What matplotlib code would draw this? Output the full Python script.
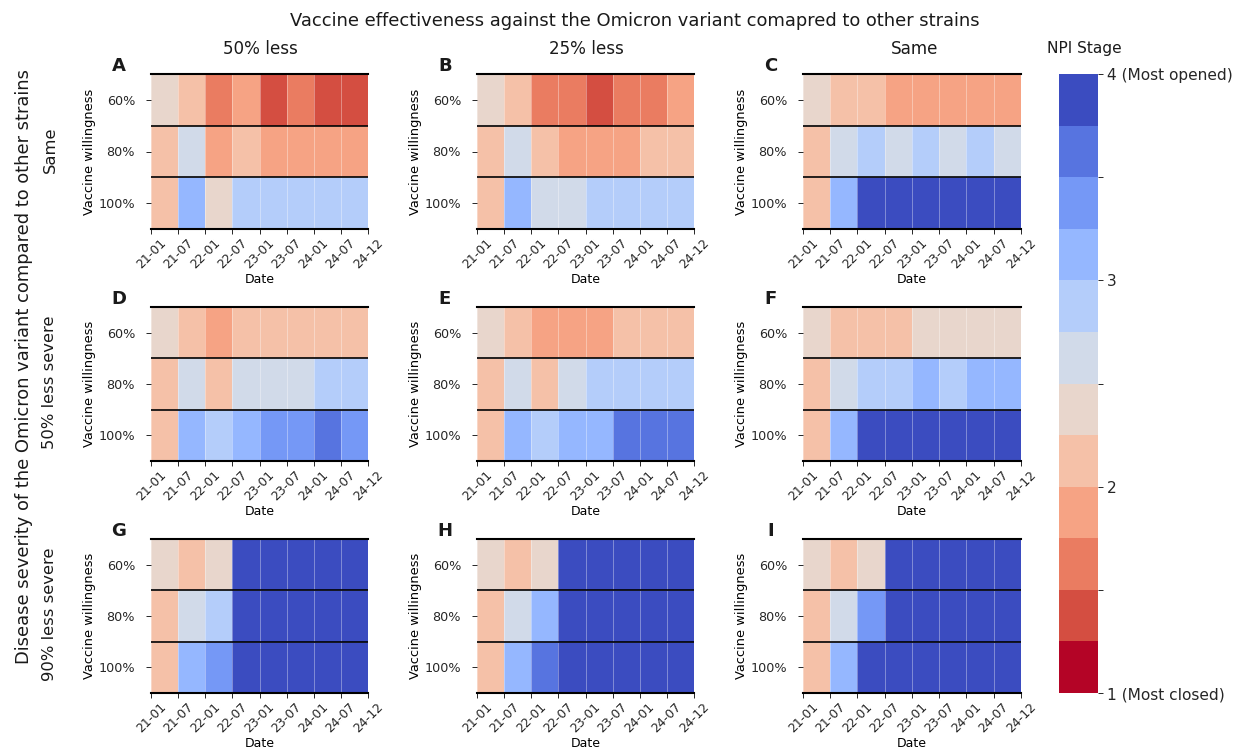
#!/usr/bin/env python3
"""Grid of NPI stage heatmaps for Omicron vaccine effectiveness and severity."""

import numpy as np

import matplotlib

matplotlib.use("Agg")
import matplotlib.pyplot as plt


dates = ["21-01", "21-07", "22-01", "22-07", "23-01", "23-07", "24-01", "24-07", "24-12"]
willingness = ["60%", "80%", "100%"]
column_titles = ["50% less", "25% less", "Same"]
row_titles = ["Same", "50% less severe", "90% less severe"]
panel_letters = ["A", "B", "C", "D", "E", "F", "G", "H", "I"]

# colour band: 0 is the bottom of the colourbar, 11 the top
panel_a = [[5, 4, 2, 3, 1, 2, 1, 1], [4, 6, 3, 4, 3, 3, 3, 3], [4, 8, 5, 7, 7, 7, 7, 7]]
panel_b = [[5, 4, 2, 2, 1, 2, 2, 3], [4, 6, 4, 3, 3, 3, 4, 4], [4, 8, 6, 6, 7, 7, 7, 7]]
panel_c = [[5, 4, 4, 3, 3, 3, 3, 3], [4, 6, 7, 6, 7, 6, 7, 6], [4, 8, 11, 11, 11, 11, 11, 11]]
panel_d = [[5, 4, 3, 4, 4, 4, 4, 4], [4, 6, 4, 6, 6, 6, 7, 7], [4, 8, 7, 8, 9, 9, 10, 9]]
panel_e = [[5, 4, 3, 3, 3, 4, 4, 4], [4, 6, 4, 6, 7, 7, 7, 7], [4, 8, 7, 8, 8, 10, 10, 10]]
panel_f = [[5, 4, 4, 4, 5, 5, 5, 5], [4, 6, 7, 7, 8, 7, 8, 8], [4, 8, 11, 11, 11, 11, 11, 11]]
panel_g = [[5, 4, 5, 11, 11, 11, 11, 11], [4, 6, 7, 11, 11, 11, 11, 11], [4, 8, 9, 11, 11, 11, 11, 11]]
panel_h = [[5, 4, 5, 11, 11, 11, 11, 11], [4, 6, 8, 11, 11, 11, 11, 11], [4, 8, 10, 11, 11, 11, 11, 11]]
panel_i = [[5, 4, 5, 11, 11, 11, 11, 11], [4, 6, 9, 11, 11, 11, 11, 11], [4, 8, 11, 11, 11, 11, 11, 11]]
panels = [panel_a, panel_b, panel_c, panel_d, panel_e, panel_f, panel_g, panel_h, panel_i]

FIG_W, FIG_H = 1233, 749
COL_X = [(151, 368), (477, 694), (803, 1021)]
ROW_Y = [(74, 229), (307, 461), (539, 693)]
COL_TITLE_X = [260, 586, 915]


def px_axes(fig, x0, x1, y0, y1):
    """Add axes from pixel coordinates measured from the top left."""
    return fig.add_axes([x0 / FIG_W, 1 - y1 / FIG_H, (x1 - x0) / FIG_W, (y1 - y0) / FIG_H])


def px_text(fig, x, y, s, **kwargs):
    kwargs.setdefault("ha", "center")
    kwargs.setdefault("va", "center")
    fig.text(x / FIG_W, 1 - y / FIG_H, s, color="#1a1a1a", **kwargs)


fig = plt.figure(figsize=(FIG_W / 100, FIG_H / 100), dpi=100)
cmap = plt.get_cmap("coolwarm_r", 12)

mesh = None
for i, (bands, letter) in enumerate(zip(panels, panel_letters)):
    row, col = divmod(i, 3)
    ax = px_axes(fig, *COL_X[col], *ROW_Y[row])
    stage = 1 + (np.array(bands) + 0.5) * 0.25
    mesh = ax.pcolormesh(np.arange(9), np.arange(4), stage, cmap=cmap, vmin=1, vmax=4,
                         edgecolors=(1, 1, 1, 0.35), linewidth=0.6)
    ax.set_ylim(3, 0)
    ax.set_xlim(0, 8)
    ax.hlines([1, 2], 0, 8, color="black", linewidth=1.2)
    for side in ("left", "right"):
        ax.spines[side].set_visible(False)
    for side in ("top", "bottom"):
        ax.spines[side].set_linewidth(1.5)
    ax.set_xticks(np.arange(9))
    ax.set_xticklabels(dates, rotation=45, ha="center", fontsize=9)
    ax.set_yticks([0.5, 1.5, 2.5])
    ax.set_yticklabels(willingness, fontsize=9.2)
    ax.tick_params(axis="both", length=3.5, width=0.7, pad=2, colors="#262626")
    ax.tick_params(axis="y", pad=8)
    ax.set_xlabel("Date", fontsize=9, labelpad=1)
    ax.set_ylabel("Vaccine willingness", fontsize=9.4, labelpad=1.5)
    px_text(fig, COL_X[col][0] - 32, ROW_Y[row][0] - 8, letter, fontsize=13, fontweight="bold")

cax = px_axes(fig, 1059, 1098, 74, 693)
cbar = fig.colorbar(mesh, cax=cax, ticks=[1, 1.5, 2, 2.5, 3, 3.5, 4])
cbar.ax.set_yticklabels(["1 (Most closed)", "", "2", "", "3", "", "4 (Most opened)"], fontsize=11.1)
cbar.ax.tick_params(length=3.5, width=0.7, pad=3, colors="#262626")
cbar.outline.set_visible(False)

px_text(fig, 634.5, 21, "Vaccine effectiveness against the Omicron variant comapred to other strains", fontsize=12.85)
for x, title in zip(COL_TITLE_X, column_titles):
    px_text(fig, x, 49, title, fontsize=12.1)
px_text(fig, 1084.5, 49, "NPI Stage", fontsize=11.1)
px_text(fig, 24, 367, "Disease severity of the Omicron variant compared to other strains",
        rotation=90, fontsize=12.9)
for (y0, y1), title in zip(ROW_Y, row_titles):
    px_text(fig, 50, (y0 + y1) / 2 - 2, title, rotation=90, fontsize=11.8)

fig.savefig("out.png", dpi=100)
